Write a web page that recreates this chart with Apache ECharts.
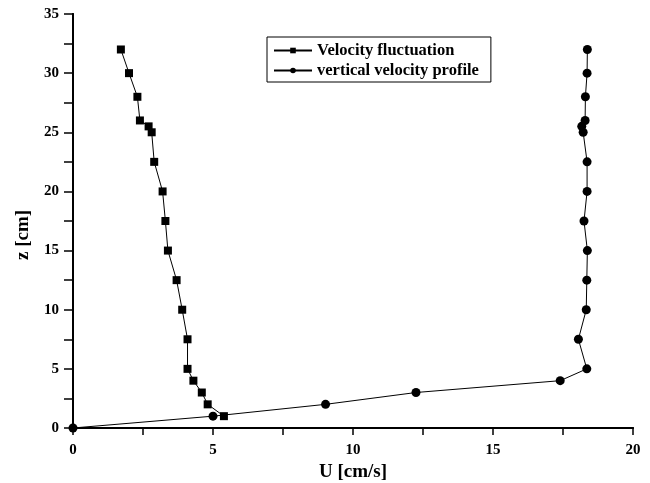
<!DOCTYPE html>
<html>
<head>
<meta charset="utf-8">
<script src="https://cdn.jsdelivr.net/npm/echarts@6/dist/echarts.min.js"></script>
<style>
  html, body { margin: 0; padding: 0; background: #fff; }
  #main { width: 650px; height: 483px; }
</style>
</head>
<body>
<div id="main"></div>
<script>
(function () {
    'use strict';

    // 数据 (z in cm, U in cm/s)
    var fluctU = [1.71, 2.0, 2.3, 2.39, 2.70, 2.81, 2.90, 3.2, 3.30, 3.39, 3.70, 3.90, 4.09, 4.09, 4.30, 4.6, 4.81, 5.39];
    var fluctZ = [32, 30, 28, 26, 25.5, 25, 22.5, 20, 17.5, 15, 12.5, 10, 7.5, 5, 4, 3, 2, 1];

    var profU = [0, 5.0, 9.02, 12.25, 17.4, 18.35, 18.05, 18.33, 18.35, 18.37, 18.25, 18.36, 18.36, 18.22, 18.17, 18.29, 18.3, 18.36, 18.37];
    var profZ = [0, 1, 2, 3, 4, 5, 7.5, 10, 12.5, 15, 17.5, 20, 22.5, 25, 25.5, 26, 28, 30, 32];

    function pairs(xs, ys) {
        var out = [];
        for (var i = 0; i < xs.length; i++) out.push([xs[i], ys[i]]);
        return out;
    }

    var font = '"Liberation Serif", "Times New Roman", serif';
    var axisLine = { lineStyle: { color: '#000', width: 2 } };

    var myChart = echarts.init(document.getElementById('main'));
    var option = {
        backgroundColor: '#fff',
        animation: false,
        grid: { left: 73, right: 17, top: 14, bottom: 55, outerBoundsMode: 'none' },
        legend: {
            orient: 'vertical',
            left: 267,
            top: 37,
            padding: [5, 12, 3, 6],
            itemGap: 3,
            itemWidth: 38,
            itemHeight: 7,
            borderColor: '#000',
            borderWidth: 1,
            borderRadius: 0,
            textStyle: { fontFamily: font, fontWeight: 'bold', fontSize: 16.5, color: '#000' },
            data: ['Velocity fluctuation', 'vertical velocity profile']
        },
        xAxis: [{
            type: 'value', min: 0, max: 20, interval: 5,
            name: 'U [cm/s]', nameLocation: 'middle', nameGap: 33,
            nameTextStyle: { fontFamily: font, fontWeight: 'bold', fontSize: 19, color: '#000' },
            axisLine: axisLine,
            axisTick: { inside: false, length: 7, lineStyle: { color: '#000', width: 1.5 } },
            minorTick: { show: true, splitNumber: 2, length: 7, lineStyle: { color: '#000', width: 1.5 } },
            axisLabel: { fontFamily: font, fontWeight: 'bold', fontSize: 15, color: '#000', margin: 15 },
            splitLine: { show: false }
        }, {
            type: 'value', position: 'top', min: 0, max: 20, interval: 2.5,
            axisLine: axisLine,
            axisTick: { inside: true, length: 5, lineStyle: { color: '#000', width: 1.5 } },
            axisLabel: { show: false },
            splitLine: { show: false }
        }],
        yAxis: [{
            type: 'value', min: 0, max: 35, interval: 5,
            name: 'z [cm]', nameLocation: 'middle', nameGap: 40,
            nameTextStyle: { fontFamily: font, fontWeight: 'bold', fontSize: 19, color: '#000', padding: [0, 28, 0, 0] },
            axisLine: axisLine,
            axisTick: { inside: false, length: 9, lineStyle: { color: '#000', width: 1.5 } },
            minorTick: { show: true, splitNumber: 2, length: 9, lineStyle: { color: '#000', width: 1.5 } },
            axisLabel: { fontFamily: font, fontWeight: 'bold', fontSize: 15, color: '#000', margin: 14 },
            splitLine: { show: false }
        }, {
            type: 'value', position: 'right', min: 0, max: 35, interval: 2.5,
            axisLine: axisLine,
            axisTick: { inside: true, length: 9, lineStyle: { color: '#000', width: 1.5 } },
            axisLabel: { show: false },
            splitLine: { show: false }
        }],
        series: [{
            name: 'Velocity fluctuation',
            type: 'line',
            data: pairs(fluctU, fluctZ),
            symbol: 'rect',
            symbolSize: 8,
            lineStyle: { color: '#000', width: 1 },
            itemStyle: { color: '#000' }
        }, {
            name: 'vertical velocity profile',
            type: 'line',
            data: pairs(profU, profZ),
            symbol: 'circle',
            symbolSize: 9,
            lineStyle: { color: '#000', width: 1 },
            itemStyle: { color: '#000' }
        }]
    };
    myChart.setOption(option);
})();
</script>
</body>
</html>
